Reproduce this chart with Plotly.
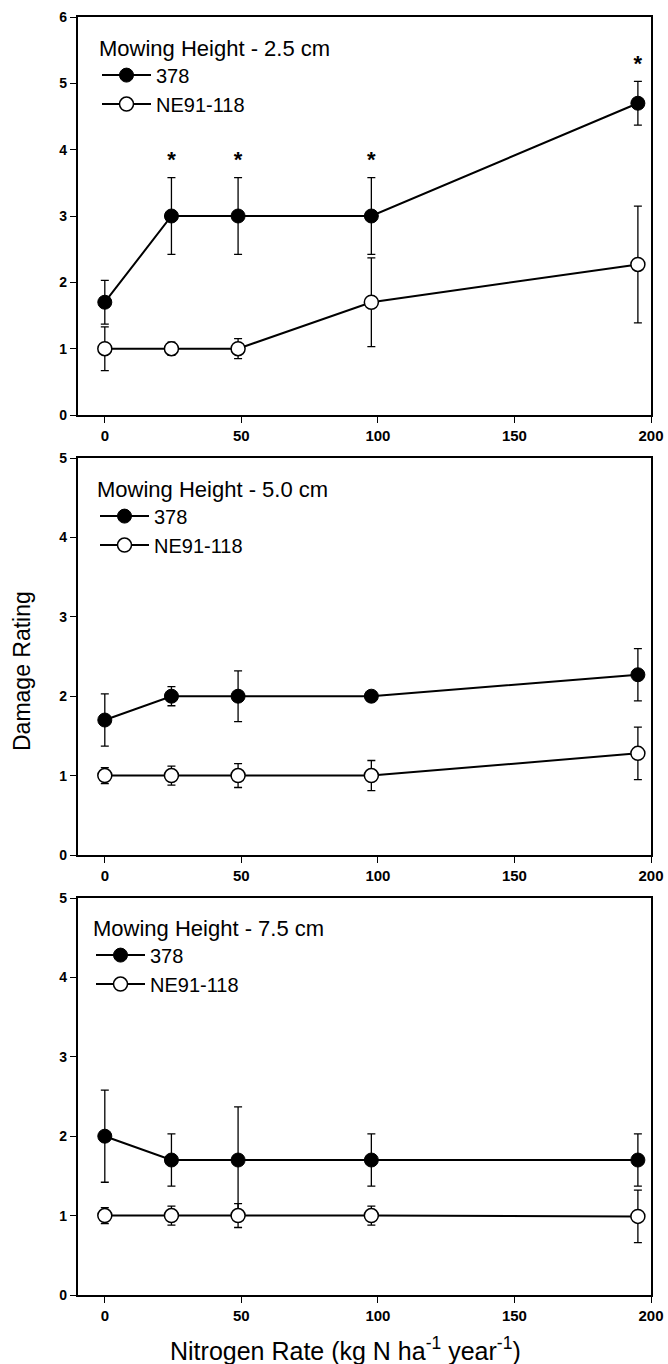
import plotly.graph_objects as go

# ---------------- data ----------------
x_rate = [0, 24.4, 48.8, 97.6, 195.2]          # kg N ha-1 year-1
x_ticks = [0, 50, 100, 150, 200]
cultivars = ["378", "NE91-118"]
panel_titles = ["Mowing Height - 2.5 cm", "Mowing Height - 5.0 cm", "Mowing Height - 7.5 cm"]

# Mowing height 2.5 cm
m378_25 = [1.7, 3.0, 3.0, 3.0, 4.7]
e378_25 = [0.33, 0.58, 0.58, 0.58, 0.33]
ne_25 = [1.0, 1.0, 1.0, 1.7, 2.27]
ene_25 = [0.33, 0.10, 0.15, 0.67, 0.88]
sig_25 = [False, True, True, True, True]

# Mowing height 5.0 cm
m378_50 = [1.7, 2.0, 2.0, 2.0, 2.27]
e378_50 = [0.33, 0.12, 0.32, 0.0, 0.33]
ne_50 = [1.0, 1.0, 1.0, 1.0, 1.28]
ene_50 = [0.10, 0.12, 0.15, 0.19, 0.33]
sig_50 = [False, False, False, False, False]

# Mowing height 7.5 cm
m378_75 = [2.0, 1.7, 1.7, 1.7, 1.7]
e378_75 = [0.58, 0.33, 0.67, 0.33, 0.33]
ne_75 = [1.0, 1.0, 1.0, 1.0, 0.99]
ene_75 = [0.10, 0.12, 0.15, 0.12, 0.33]
sig_75 = [False, False, False, False, False]

y_max = [6, 5, 5]

panels = [
    (m378_25, e378_25, ne_25, ene_25, sig_25),
    (m378_50, e378_50, ne_50, ene_50, sig_50),
    (m378_75, e378_75, ne_75, ene_75, sig_75),
]

# ---------------- layout geometry ----------------
W, H = 668, 1364
FONT = "Liberation Sans, Arial, sans-serif"
x_dom = [77.5 / W, 651 / W]
y_px = [(17, 415), (458, 855), (898, 1295)]   # top, bottom in pixels
legend_px = [(97, 27), (95, 468), (91, 907)]

fig = go.Figure()
layout = dict(
    width=W, height=H,
    margin=dict(l=0, r=0, t=0, b=0),
    paper_bgcolor="white", plot_bgcolor="white",
    font=dict(family=FONT, color="black"),
    annotations=[],
)

for i, (m378, e378, ne, ene, sig) in enumerate(panels):
    sfx = "" if i == 0 else str(i + 1)
    xa, ya, lg = "x" + sfx, "y" + sfx, "legend" + sfx
    fig.add_trace(go.Scatter(
        x=x_rate, y=m378, name=cultivars[0], xaxis=xa, yaxis=ya, legend=lg,
        mode="lines+markers",
        line=dict(color="black", width=2),
        marker=dict(symbol="circle", size=14, color="black", line=dict(color="black", width=1)),
        error_y=dict(type="data", array=e378, color="black", thickness=1.3, width=4),
    ))
    fig.add_trace(go.Scatter(
        x=x_rate, y=ne, name=cultivars[1], xaxis=xa, yaxis=ya, legend=lg,
        mode="lines+markers",
        line=dict(color="black", width=2),
        marker=dict(symbol="circle", size=14, color="white", line=dict(color="black", width=1.5)),
        error_y=dict(type="data", array=ene, color="black", thickness=1.3, width=4),
    ))
    sx = [x for x, s in zip(x_rate, sig) if s]
    sy = [v + e + 0.24 for v, e, s in zip(m378, e378, sig) if s]
    if sx:
        fig.add_trace(go.Scatter(
            x=sx, y=sy, xaxis=xa, yaxis=ya, mode="text", text=["*"] * len(sx),
            textposition="middle center", showlegend=False,
            textfont=dict(family=FONT, size=22, color="black", weight="bold"),
        ))

    top, bot = y_px[i]
    layout["xaxis" + sfx] = dict(
        domain=x_dom, anchor=ya, range=[-10, 200],
        tickmode="array", tickvals=x_ticks, ticktext=[str(t) for t in x_ticks],
        ticks="outside", ticklen=6, tickwidth=1.3, tickcolor="black",
        showline=True, linecolor="black", linewidth=1.5, mirror=True,
        showgrid=False, zeroline=False,
        tickfont=dict(family=FONT, size=15, color="black", weight="bold"),
        automargin=False,
    )
    layout["yaxis" + sfx] = dict(
        domain=[1 - bot / H, 1 - top / H], anchor=xa, range=[0, y_max[i]],
        tickmode="linear", tick0=0, dtick=1,
        ticks="outside", ticklen=6, tickwidth=1.3, tickcolor="black",
        showline=True, linecolor="black", linewidth=1.5, mirror=True,
        showgrid=False, zeroline=False,
        tickfont=dict(family=FONT, size=14, color="black", weight="bold"),
        automargin=False,
    )
    lx, ly = legend_px[i]
    layout["legend" + sfx] = dict(
        title=dict(text=panel_titles[i], font=dict(family=FONT, size=22, color="black")),
        font=dict(family=FONT, size=20, color="black"),
        x=lx / W, y=1 - ly / H, xanchor="left", yanchor="top",
        xref="paper", yref="paper",
        bgcolor="rgba(0,0,0,0)", borderwidth=0, tracegroupgap=0,
        traceorder="normal", itemwidth=49,
    )

layout["annotations"].append(dict(
    text="Damage Rating", textangle=-90, x=22 / W, y=1 - 671 / H,
    xref="paper", yref="paper", xanchor="center", yanchor="middle", showarrow=False,
    font=dict(family=FONT, size=23, color="black"),
))
layout["annotations"].append(dict(
    text="Nitrogen Rate (kg N ha<sup>-1</sup> year<sup>-1</sup>)", x=345 / W, y=1 - 1349 / H,
    xref="paper", yref="paper", xanchor="center", yanchor="middle", showarrow=False,
    font=dict(family=FONT, size=25, color="black"),
))

fig.update_layout(**layout)
fig.write_html(
    "out.html",
    config={"displayModeBar": False},
    post_script="document.body.style.margin='0';document.body.style.overflow='hidden';",
)
